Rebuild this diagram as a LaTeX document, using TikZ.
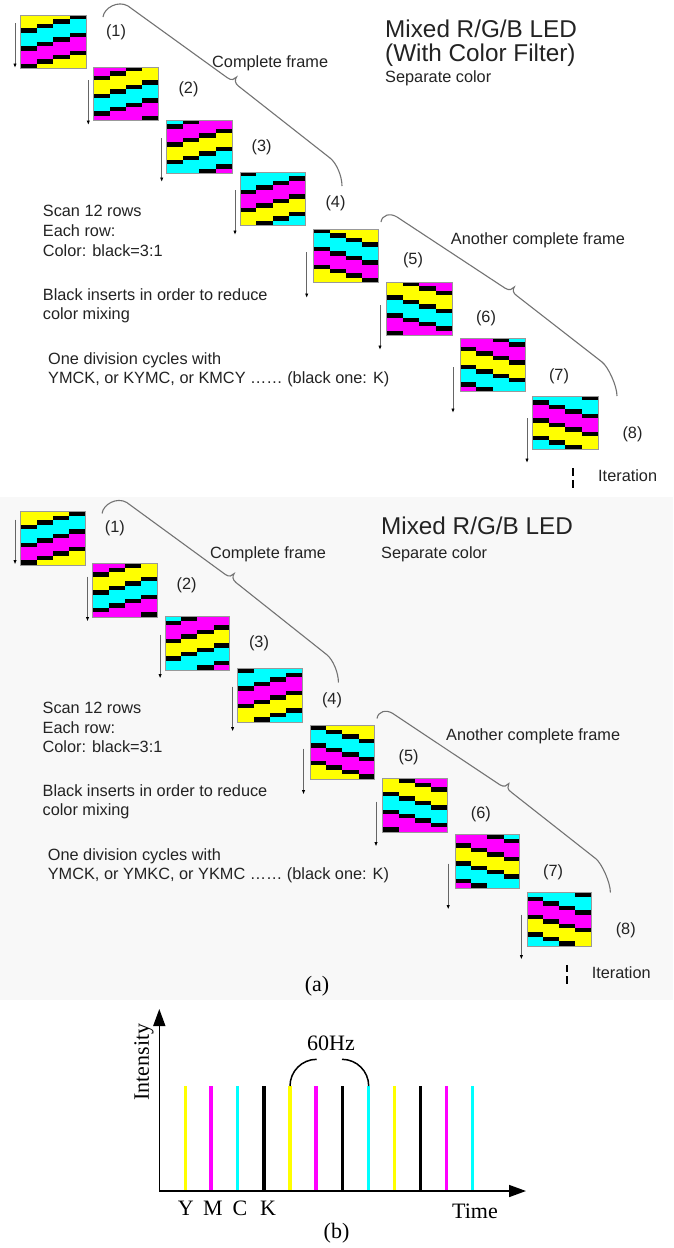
\documentclass[tikz,border=0pt]{standalone}
\usepackage{fontspec}
\setmainfont{Liberation Sans}
\newfontfamily\tnr{Liberation Serif}
\usetikzlibrary{arrows.meta}
\definecolor{cY}{RGB}{255,255,0}
\definecolor{cM}{RGB}{255,0,255}
\definecolor{cC}{RGB}{0,255,255}
\definecolor{cK}{RGB}{0,0,0}
\definecolor{txtc}{RGB}{35,35,35}
\definecolor{panelbg}{RGB}{248,248,248}
\colorlet{sq0}{cY}\colorlet{sq1}{cY}\colorlet{sq2}{cY}\colorlet{sq3}{cK}
\colorlet{sq4}{cC}\colorlet{sq5}{cC}\colorlet{sq6}{cC}\colorlet{sq7}{cK}
\colorlet{sq8}{cM}\colorlet{sq9}{cM}\colorlet{sq10}{cM}\colorlet{sq11}{cK}
\tikzset{
  txt/.style={inner sep=0pt, font=\fontsize{16.3}{19.5}\selectfont, text=txtc},
  ttl/.style={inner sep=0pt, font=\fontsize{24.3}{28}\selectfont, text=txtc},
  scanarrow/.style={draw=black!60, line width=0.9, -{Latex[length=4.5,width=3.4,color=black]}},
  bracepath/.style={draw=black!55, line width=1.1},
  blockedge/.style={draw=black!40, line width=0.6},
  tnrtxt/.style={inner sep=0pt, font=\tnr\fontsize{22}{26}\selectfont},
  bar/.style={line width=3.3},
  axisline/.style={line width=1.6, -{Triangle[length=17,width=12]}},
  hzarc/.style={line width=1.5},
}
% name, x, y, dir (+1 rising / -1 descending), offset
\newcommand\ledblock[5]{%
  \coordinate (#1) at (#2,#3);
  \foreach \cc in {0,...,3}{\foreach \rr in {0,...,11}{%
    \pgfmathtruncatemacro\idx{mod(\rr+(#4)*\cc+#5+24,12)}%
    \fill[fill=sq\idx] ({#2+\cc*16.33},{#3+\rr*4.44}) rectangle ({#2+(\cc+1)*16.33+0.2},{#3+(\rr+1)*4.44+0.3});
  }}%
  \draw[blockedge] (#2,#3) rectangle ({#2+65.3},{#3+53.3});
}
% arrow: name, x, y start, y end
\newcommand\scanarr[4]{%
  \coordinate (#1s) at (#2,#3);
  \coordinate (#1e) at (#2,#4);
  \draw[scanarrow] (#1s) -- (#1e);
}
\newcommand\panelcommon[1]{%
  \ledblock{#1blk1}{20.7}{15}{1}{0}
  \ledblock{#1blk2}{93.3}{67}{1}{9}
  \ledblock{#1blk3}{166.7}{120}{1}{6}
  \ledblock{#1blk4}{240}{172}{1}{3}
  \ledblock{#1blk5}{313.3}{229}{-1}{3}
  \ledblock{#1blk6}{386.7}{282}{-1}{0}
  \ledblock{#1blk7}{460}{338}{-1}{9}
  \ledblock{#1blk8}{532.7}{396}{-1}{6}
  \scanarr{#1ar1}{15}{23}{68}
  \scanarr{#1ar2}{88.3}{80}{125}
  \scanarr{#1ar3}{161.7}{138}{182}
  \scanarr{#1ar4}{235}{190}{235}
  \scanarr{#1ar5}{306.7}{252}{298}
  \scanarr{#1ar6}{380}{305}{350}
  \scanarr{#1ar7}{453}{367}{413}
  \scanarr{#1ar8}{527}{418}{463}
  \node[txt] (#1lb1) at (116,32) {(1)};
  \node[txt] (#1lb2) at (188.5,89) {(2)};
  \node[txt] (#1lb3) at (261.7,147) {(3)};
  \node[txt] (#1lb4) at (335.5,203.5) {(4)};
  \node[txt] (#1lb5) at (413,260.5) {(5)};
  \node[txt] (#1lb6) at (486,318) {(6)};
  \node[txt] (#1lb7) at (559,376) {(7)};
  \node[txt] (#1lb8) at (632.5,434) {(8)};
  % braces
  \coordinate (#1bAs) at (103,17);
  \coordinate (#1bAe) at (342,186);
  \draw[bracepath] (#1bAs) .. controls (104,8) and (118,0) .. (128,6)
     -- (227.4,77.8) .. controls (231.4,80.8) and (234.8,79.5) .. (236.5,77.1)
     .. controls (234.8,79.5) and (234.6,83.2) .. (238.6,86.2)
     -- (330,158) .. controls (336.4,162.9) and (342,176) .. (#1bAe);
  \coordinate (#1bBs) at (381,222);
  \coordinate (#1bBe) at (617,396);
  \draw[bracepath] (#1bBs) .. controls (382,215) and (390,212.6) .. (397,217)
     -- (505.1,288.2) .. controls (509.3,290.9) and (512.6,289.5) .. (514.3,287)
     .. controls (512.6,289.5) and (512.7,293.1) .. (516.9,295.8)
     -- (602,362) .. controls (608.3,366.9) and (617,386) .. (#1bBe);
  % iteration
  \coordinate (#1itA) at (573.3,468.3);
  \coordinate (#1itB) at (573.3,487.5);
  \draw[line width=2, dash pattern=on 7.6 off 4] (#1itA) -- (#1itB);
  \node[txt, anchor=base west] (#1iter) at (598,481.7) {Iteration};
  \node[txt, anchor=base west] (#1scan) at (42.7,216.7) {Scan 12 rows};
  \node[txt, anchor=base west] (#1each) at (42.7,236.7) {Each row:};
  \node[txt, anchor=base west] (#1ratio) at (42.7,256) {Color: black=3:1};
  \node[txt, anchor=base west] (#1blk) at (42.7,300) {Black inserts in order to reduce};
  \node[txt, anchor=base west] (#1mix) at (42.7,319.3) {color mixing};
  \node[txt, anchor=base west] (#1div) at (48,364) {One division cycles with};
  \node[txt, anchor=base west] (#1anoth) at (450.7,244) {Another complete frame};
}
\begin{document}
\begin{tikzpicture}[x=1pt,y=-1pt]
\useasboundingbox (0,0) rectangle (673,1248);
\fill[white] (0,0) rectangle (673,1248);
\fill[panelbg] (0,497) rectangle (673,1000);
% ---------- top panel
\begin{scope}
\panelcommon{t}
\node[ttl, anchor=base west] (tttl) at (385,37.5) {Mixed R/G/B LED};
\node[ttl, anchor=base west] (tfilt) at (385,61.7) {(With Color Filter)};
\node[txt, anchor=base west] (tsep) at (385,82.7) {Separate color};
\node[txt, anchor=base west] (tcomp) at (212,67) {Complete frame};
\node[txt, anchor=base west] (tcyc) at (48,383.3) {YMCK, or KYMC, or KMCY …… (black one: K)};
\end{scope}
% ---------- bottom panel
\begin{scope}[shift={(0.2,496.5)}, xscale=0.989]
\panelcommon{b}
\node[ttl, anchor=base west] (bttl) at (385,37.5) {Mixed R/G/B LED};
\node[txt, anchor=base west] (bsep) at (385,61.5) {Separate color};
\node[txt, anchor=base west] (bcomp) at (212,61.5) {Complete frame};
\node[txt, anchor=base west] (bcyc) at (48,383.3) {YMCK, or YMKC, or YKMC …… (black one: K)};
\end{scope}
\node[tnrtxt] (capa) at (317,986) {(a)};
% ---------- chart (b)
\coordinate (O) at (159.3,1191);
\coordinate (ytip) at (159.3,1009);
\coordinate (xtip) at (526,1191);
\foreach \i/\xx/\cl in {1/185.7/cY,2/211/cM,3/237.3/cC,4/264/cK,5/290/cY,6/316/cM,7/342.3/cK,8/368.7/cC,9/394.7/cY,10/420.7/cK,11/446.7/cM,12/472.7/cC}{
  \coordinate (b\i t) at (\xx,1086);
  \coordinate (b\i b) at (\xx,1191);
  \draw[bar, draw=\cl] (b\i b) -- (b\i t);
}
\draw[axisline] (O) -- (ytip);
\draw[axisline] (O) -- (xtip);
\draw[hzarc] (b5t) arc[start angle=180, end angle=270, radius=26.7];
\draw[hzarc] (b8t) arc[start angle=0, end angle=-90, radius=26.7];
\node[tnrtxt, anchor=base] (hz) at (331,1050) {60Hz};
\node[tnrtxt, anchor=base] (lY) at (185.7,1215) {Y};
\node[tnrtxt, anchor=base] (lM) at (213,1215) {M};
\node[tnrtxt, anchor=base] (lC) at (240,1215) {C};
\node[tnrtxt, anchor=base] (lK) at (268,1215) {K};
\node[tnrtxt, anchor=base] (ltime) at (475,1218) {Time};
\node[tnrtxt] (capb) at (336.5,1233) {(b)};
\node[tnrtxt, rotate=90] (lint) at (144,1062) {Intensity};
\end{tikzpicture}
\end{document}
